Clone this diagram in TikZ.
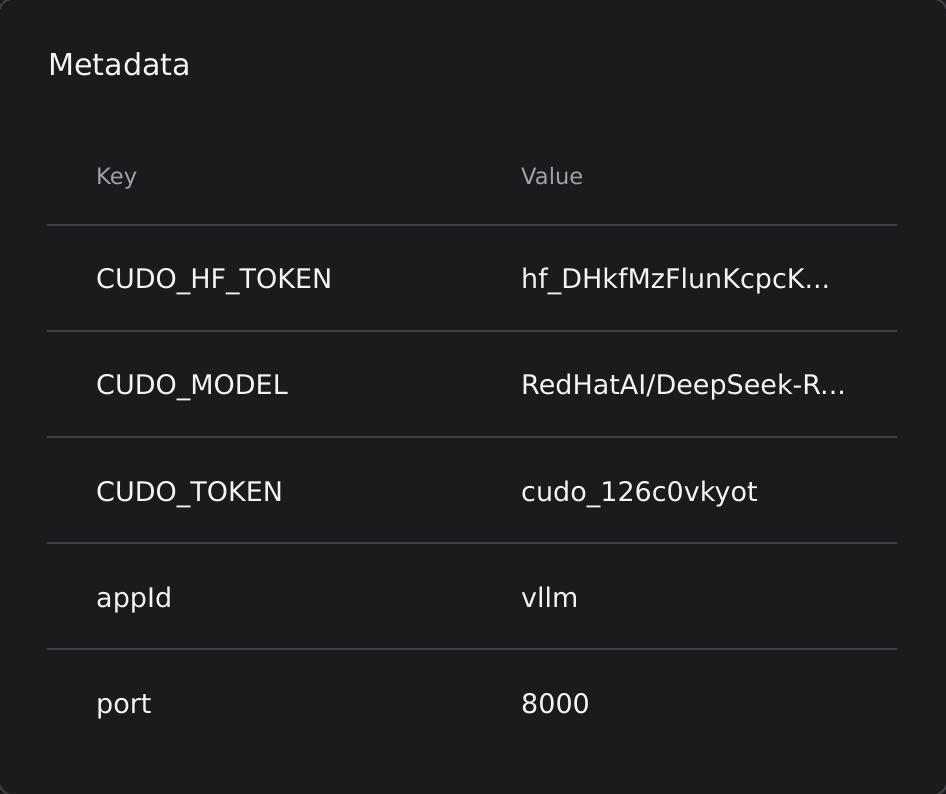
\documentclass[tikz,border=0pt]{standalone}
\usepackage{fontspec}
\setmainfont{DejaVu Sans}
\definecolor{cardbg}{HTML}{1B1B1D}
\definecolor{rule}{HTML}{3F3F46}
\definecolor{txt}{HTML}{F4F4F5}
\definecolor{hdr}{HTML}{A1A1AA}
\tikzset{
  titletext/.style={anchor=base west, inner sep=0pt, text=txt, font=\fontsize{30.2}{36}\selectfont},
  headtext/.style={anchor=base west, inner sep=0pt, text=hdr, font=\fontsize{22.6}{27}\selectfont},
  celltext/.style={anchor=base west, inner sep=0pt, text=txt, font=\fontsize{27}{30}\selectfont},
  rowline/.style={draw=rule, line width=1.6pt},
}
\begin{document}
\begin{tikzpicture}[x=1pt,y=-1pt]
\useasboundingbox (0,0) rectangle (946,794);
\fill[cardbg] (0,0) rectangle (946,794);
\draw[rule, line width=2pt, rounded corners=16pt] (-1.6,-1.6) rectangle (947.6,795.6);
\node[titletext] (title) at (48,76) {Metadata};
\node[headtext] (hkey) at (96,185) {Key};
\node[headtext] (hval) at (521,185) {Value};
\foreach \i/\y in {0/225,1/331,2/437,3/543,4/649}{
  \coordinate (l\i a) at (47,\y);
  \coordinate (l\i b) at (897,\y);
  \draw[rowline] (l\i a) -- (l\i b);
}
\node[celltext] (k1) at (96,289) {CUDO\_HF\_TOKEN};
\node[celltext] (v1) at (521,289) {hf\_DHkfMzFlunKcpcK...};
\node[celltext] (k2) at (96,395) {CUDO\_MODEL};
\node[celltext] (v2) at (521,395) {RedHatAI/DeepSeek-R...};
\node[celltext] (k3) at (96,501) {CUDO\_TOKEN};
\node[celltext] (v3) at (521,501) {cudo\_126c0vkyot};
\node[celltext] (k4) at (96,607) {appId};
\node[celltext] (v4) at (521,607) {vllm};
\node[celltext] (k5) at (96,713) {port};
\node[celltext] (v5) at (521,713) {8000};
\end{tikzpicture}
\end{document}
